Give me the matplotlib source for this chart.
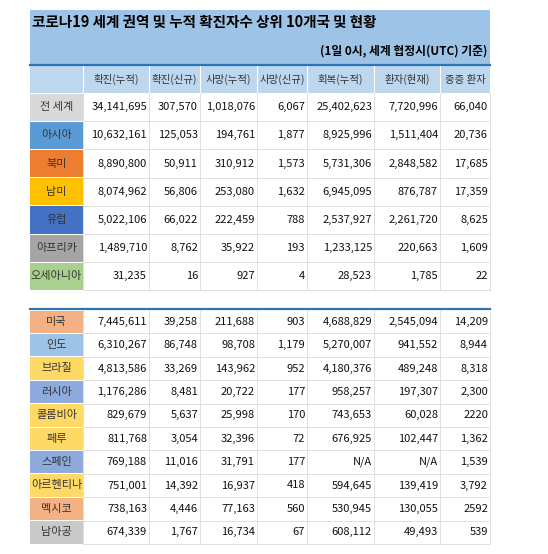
import matplotlib.pyplot as plt
from matplotlib.patches import Rectangle

plt.rcParams['font.family'] = ['Noto Sans CJK KR', 'DejaVu Sans']

title = "코로나19 세계 권역 및 누적 확진자수 상위 10개국 및 현황"
subtitle = "(1일 0시, 세계 협정시(UTC) 기준)"
headers = ["확진(누적)", "확진(신규)", "사망(누적)", "사망(신규)", "회복(누적)", "환자(현재)", "중증 환자"]

regions = ["전 세계", "아시아", "북미", "남미", "유럽", "아프리카", "오세아니아"]
region_colors = ["#D9D9D9", "#5B9BD5", "#ED7D31", "#FFC000", "#4472C4", "#A5A5A5", "#A9D08E"]
region_values = [
    ["34,141,695", "307,570", "1,018,076", "6,067", "25,402,623", "7,720,996", "66,040"],
    ["10,632,161", "125,053", "194,761", "1,877", "8,925,996", "1,511,404", "20,736"],
    ["8,890,800", "50,911", "310,912", "1,573", "5,731,306", "2,848,582", "17,685"],
    ["8,074,962", "56,806", "253,080", "1,632", "6,945,095", "876,787", "17,359"],
    ["5,022,106", "66,022", "222,459", "788", "2,537,927", "2,261,720", "8,625"],
    ["1,489,710", "8,762", "35,922", "193", "1,233,125", "220,663", "1,609"],
    ["31,235", "16", "927", "4", "28,523", "1,785", "22"],
]

countries = ["미국", "인도", "브라질", "러시아", "콜롬비아", "페루", "스페인", "아르헨티나", "멕시코", "남아공"]
country_colors = ["#F4B183", "#9DC3E6", "#FFD966", "#8FAADC", "#FFD966", "#FFD966", "#8FAADC",
                  "#FFD966", "#F4B183", "#C9C9C9"]
country_values = [
    ["7,445,611", "39,258", "211,688", "903", "4,688,829", "2,545,094", "14,209"],
    ["6,310,267", "86,748", "98,708", "1,179", "5,270,007", "941,552", "8,944"],
    ["4,813,586", "33,269", "143,962", "952", "4,180,376", "489,248", "8,318"],
    ["1,176,286", "8,481", "20,722", "177", "958,257", "197,307", "2,300"],
    ["829,679", "5,637", "25,998", "170", "743,653", "60,028", "2220"],
    ["811,768", "3,054", "32,396", "72", "676,925", "102,447", "1,362"],
    ["769,188", "11,016", "31,791", "177", "N/A", "N/A", "1,539"],
    ["751,001", "14,392", "16,937", "418", "594,645", "139,419", "3,792"],
    ["738,163", "4,446", "77,163", "560", "530,945", "130,055", "2592"],
    ["674,339", "1,767", "16,734", "67", "608,112", "49,493", "539"],
]

# column edges in pixels
xs = [30, 83, 149, 200, 257, 307, 374, 440, 490]
grid = "#E0E0E0"

fig = plt.figure(figsize=(5.48, 5.54), dpi=100)
ax = fig.add_axes([0, 0, 1, 1])
ax.set_xlim(0, 548)
ax.set_ylim(554, 0)
ax.axis("off")

# title band
ax.add_patch(Rectangle((xs[0], 10), xs[-1] - xs[0], 55, color="#9DC3E6", lw=0))
ax.text(32, 22, title, fontsize=10.5, fontweight="bold", va="center", ha="left")
ax.text(487, 51, subtitle, fontsize=8.5, fontweight="bold", va="center", ha="right")
ax.plot([xs[0], xs[-1]], [65, 65], color="#2E75B6", lw=1.6)

# header row
ax.add_patch(Rectangle((xs[0], 66), xs[-1] - xs[0], 27, color="#BDD7EE", lw=0))
for i, h in enumerate(headers):
    ax.text((xs[i + 1] + xs[i + 2]) / 2, 79.5, h, fontsize=7.5, ha="center", va="center",
            color="#333333")
for x in xs[1:-1]:
    ax.plot([x, x], [66, 93], color="white", lw=0.8)


def draw_rows(names, colors, values, y0, h):
    for r, (name, col, vals) in enumerate(zip(names, colors, values)):
        top = y0 + r * h
        ax.add_patch(Rectangle((xs[0], top + 0.5), xs[1] - xs[0], h - 1, color=col, lw=0))
        ax.text((xs[0] + xs[1]) / 2, top + h / 2, name, fontsize=8, ha="center", va="center",
                color="#333333")
        for c, v in enumerate(vals):
            ax.text(xs[c + 2] - 2, top + h / 2, v, fontsize=8, ha="right", va="center",
                    fontweight="medium", color="#111111")
        ax.plot([xs[1], xs[-1]], [top + h, top + h], color=grid, lw=0.7)
    bottom = y0 + len(names) * h
    for x in xs[1:]:
        ax.plot([x, x], [y0, bottom], color=grid, lw=0.7)


draw_rows(regions, region_colors, region_values, 93, 28.2)
ax.plot([xs[0], xs[-1]], [309, 309], color="#2E75B6", lw=1.6)
draw_rows(countries, country_colors, country_values, 310, 23.4)

fig.savefig("out.png", dpi=100)
